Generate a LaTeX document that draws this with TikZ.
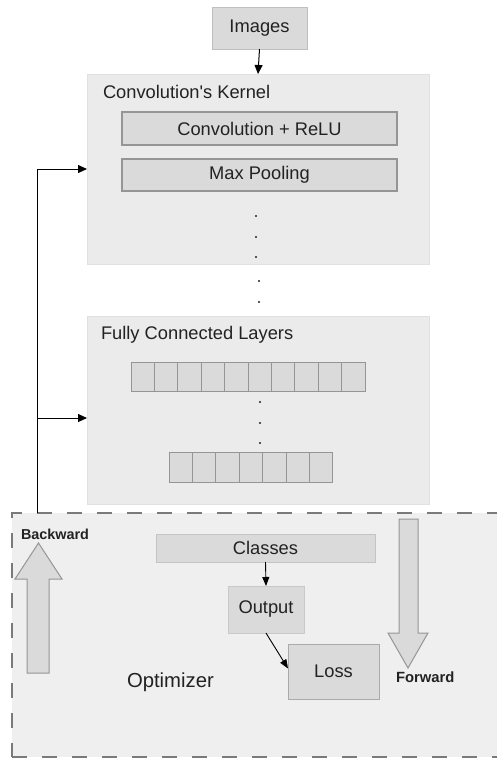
\documentclass[tikz,border=0pt]{standalone}
\usepackage{fontspec}
\setmainfont{Liberation Sans}[Ligatures=TeXOff]
\usetikzlibrary{arrows.meta,calc}

\definecolor{txt}{HTML}{222222}
\definecolor{panel}{HTML}{EBEBEB}
\definecolor{panelline}{HTML}{E0E0E0}
\definecolor{cellfill}{HTML}{DADADA}
\definecolor{cellline}{HTML}{959595}
\definecolor{optfill}{HTML}{EFEFEF}
\definecolor{dashline}{HTML}{7A7A7A}

\tikzset{
  every node/.style={text=txt, inner sep=0pt, outer sep=0pt},
  lbl/.style={font=\fontsize{18.3}{20}\selectfont},
  panelbox/.style={draw=panelline, fill=panel, line width=0.8pt},
  layerbox/.style={draw=cellline, fill=cellfill, line width=1.1pt, lbl},
  softbox/.style={draw=#1, fill=cellfill, line width=1pt, lbl},
  cell/.style={draw=cellline, fill=cellfill, line width=1pt,
    minimum width=23.4pt, minimum height=#1, anchor=west},
  dotmark/.style={circle, fill=txt, minimum size=2.2pt},
  flow/.style={draw=black, line width=1pt, -{Triangle[length=9pt,width=8pt]}},
  blockarrow/.style={draw=cellline, fill=cellfill, line width=1pt, line join=miter},
}

\begin{document}
\begin{tikzpicture}[x=1pt, y=-1pt]
\useasboundingbox[fill=white] (0,0) rectangle (496,758);

% optimizer region (runs past the right edge)
\node[draw=dashline, fill=optfill, line width=1.6pt,
      dash pattern=on 15pt off 15pt, minimum width=498pt, minimum height=244pt,
      anchor=north west] (opt) at (12,513) {};

% input
\node[softbox=cellline!60, minimum width=95pt, minimum height=42pt] (img) at (259.5,28) {Images};

% convolution stage
\node[panelbox, minimum width=342pt, minimum height=190pt] (conv) at (258,169) {};
\node[lbl, anchor=west] (convlbl) at (103,92) {Convolution's Kernel};
\node[layerbox, minimum width=275pt, minimum height=33pt] (relu) at (259.5,128.5) {Convolution + ReLU};
\node[layerbox, minimum width=275pt, minimum height=32pt] (pool) at (259.5,175) {Max Pooling};
\node[dotmark] (d1) at (256,216) {};
\node[dotmark] (d2) at (256,237) {};
\node[dotmark] (d3) at (256,257) {};

% between stages
\node[dotmark] (d4) at (259,281) {};
\node[dotmark] (d5) at (259,302) {};

% fully connected stage
\node[panelbox, minimum width=342pt, minimum height=188pt] (fc) at (258,410) {};
\node[lbl, anchor=west] (fclbl) at (101,335) {Fully Connected Layers};
\foreach \i in {0,...,9} {
  \node[cell=29pt] (ra\i) at ({131+23.4*\i},376.5) {};
}
\node[dotmark] (d6) at (260,402) {};
\node[dotmark] (d7) at (260,423) {};
\node[dotmark] (d8) at (260,443) {};
\foreach \i in {0,...,6} {
  \node[cell=30pt] (rb\i) at ({169+23.4*\i},467) {};
}

% optimizer contents
\node[softbox=cellfill!90!black, minimum width=219pt, minimum height=28pt] (cls) at (265.5,548) {Classes};
\node[softbox=cellfill!92!black, minimum width=76pt, minimum height=47pt] (out) at (266,609.5) {Output};
\node[softbox=cellline!80, minimum width=91pt, minimum height=55pt] (loss) at (333.5,671.5) {Loss};
\node[font=\fontsize{20.3}{22}\selectfont, anchor=west] (optlbl) at (127,682) {Optimizer};

% backward / forward block arrows
\draw[blockarrow] (27,673) -- (27,579) -- (15,579) -- (38.5,543) -- (62,579) -- (49,579) -- (49,673) -- cycle;
\node[font=\bfseries\fontsize{14.4}{16}\selectfont, anchor=west] (bw) at (21,534) {Backward};
\draw[blockarrow] (399,519) -- (418,519) -- (418,633) -- (428,633) -- (408,668) -- (388,633) -- (399,633) -- cycle;
\node[font=\bfseries\fontsize{14.8}{16}\selectfont, anchor=west] (fw) at (396,677) {Forward};

% forward connectors
\draw[flow] (img.south) -- (conv.north);
\draw[flow, line width=0.9pt, -{Triangle[length=9pt,width=7pt]}] (cls.south) -- (out.north);
\draw[flow, line width=0.9pt, -{Triangle[length=9pt,width=7pt]}] (out.south) -- ([yshift=3pt]loss.west);

% feedback path
\coordinate (fbbase) at (37,513);
\coordinate (fbmid) at (37,418);
\draw[flow, -] (fbbase) -- (fbmid);
\draw[flow] (fbmid) |- (conv.west);
\draw[flow] (fbmid) -- (fbmid -| fc.west);
\end{tikzpicture}
\end{document}
